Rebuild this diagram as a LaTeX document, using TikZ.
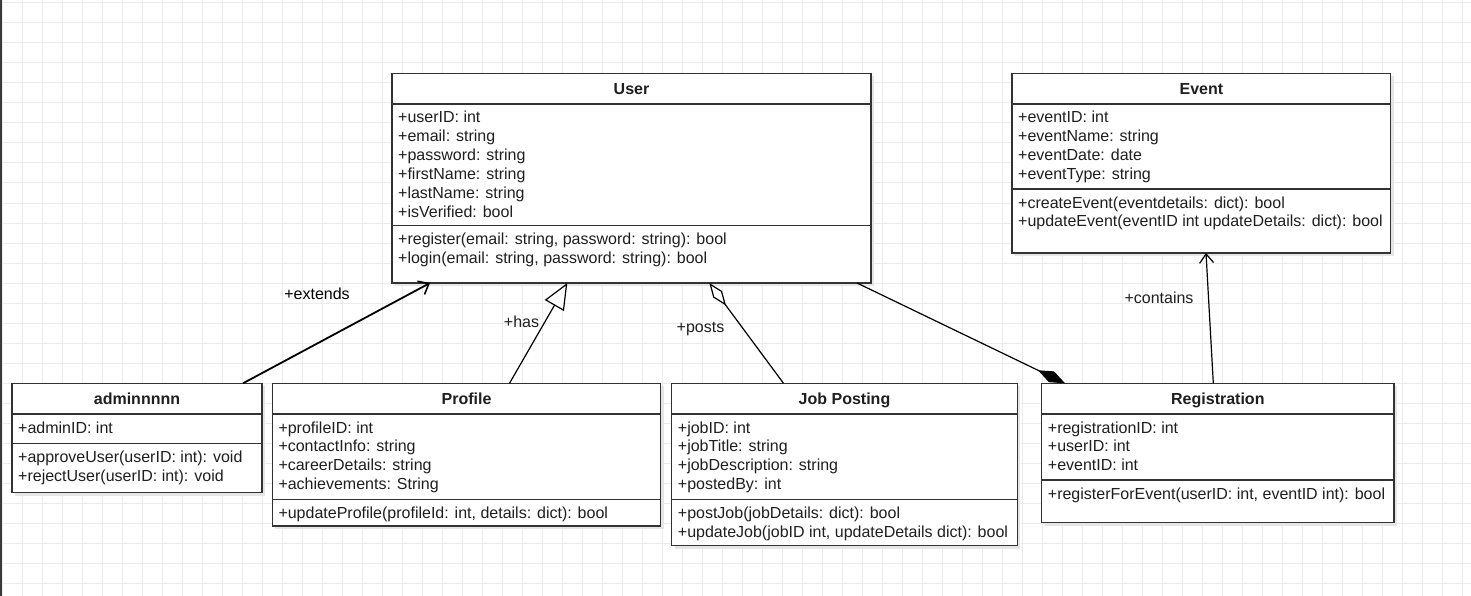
\documentclass[tikz,border=0pt]{standalone}
\usepackage{fontspec}
\setmainfont{Liberation Sans}
\usetikzlibrary{arrows.meta,calc}
\definecolor{gridc}{HTML}{EBEBEB}
\definecolor{linec}{HTML}{333333}
\definecolor{textc}{HTML}{1F1F1F}
\definecolor{shadowc}{HTML}{E6E6E6}
\definecolor{barc}{HTML}{3A3A3A}
\tikzset{
  classbox/.style={draw=linec, line width=1.3pt, fill=white, inner sep=0pt, outer sep=0pt, anchor=north west},
  sepline/.style={draw=linec, line width=1.3pt},
  titletext/.style={font=\fontsize{16}{19}\selectfont\bfseries, text=textc, inner sep=0pt, anchor=base},
  membertext/.style={font=\fontsize{16}{19}\selectfont, text=textc, inner sep=0pt, anchor=base west},
  conn/.style={draw=black, line width=1.2pt},
  lbl/.style={font=\fontsize{16}{19}\selectfont, text=textc, inner sep=0pt},
}
% #1 name, #2 left, #3 top, #4 right, #5 bottom, #6 second separator, #7 title, #8 attributes, #9 methods
\newcommand\umlclass[9]{%
  \fill[shadowc] ({#2+3},{#3+3}) rectangle ({#4+3},{#5+3});
  \node[classbox, minimum width={#4-#2}, minimum height={#5-#3}] (#1) at ({#2},{#3}) {};
  \draw[sepline] ({#2},{#3+30.7}) -- ({#4},{#3+30.7});
  \draw[sepline] ({#2},{#6}) -- ({#4},{#6});
  \node[titletext] (#1-title) at ({(#2+#4)/2},{#3+21}) {#7};
  \foreach \t [count=\i] in {#8} {\node[membertext] (#1-a\i) at ({#2+6},{#3+30.7+19+(\i-1)*18.8}) {\t};}
  \foreach \t [count=\i] in {#9} {\node[membertext] (#1-m\i) at ({#2+6},{#6+19+(\i-1)*18.8}) {\t};}
}
\begin{document}
\begin{tikzpicture}[x=1pt,y=-1pt]
\useasboundingbox (0,0) rectangle (1471,596);
\fill[white] (0,0) rectangle (1471,596);
\foreach \gx in {2,22,...,1462} {\draw[gridc, line width=1pt] (\gx,0) -- (\gx,596);}
\foreach \gy in {3,23,...,593} {\draw[gridc, line width=1pt] (0,\gy) -- (1471,\gy);}
\fill[barc] (0,0) rectangle (2,596);

\umlclass{user}{392}{73.3}{871}{283}{225.7}{User}
  {+userID: int,+email: string,+password: string,+firstName: string,+lastName: string,+isVerified: bool}
  {{+register(email: string, password: string): bool},{+login(email: string, password: string): bool}}
\umlclass{event}{1012}{73.3}{1390.7}{253}{189}{Event}
  {+eventID: int,+eventName: string,+eventDate: date,+eventType: string}
  {{+createEvent(eventdetails: dict): bool},{+updateEvent(eventID int updateDetails: dict): bool}}
\umlclass{admin}{12}{383.3}{262}{492.7}{443.3}{adminnnnn}
  {+adminID: int}
  {{+approveUser(userID: int): void},{+rejectUser(userID: int): void}}
\umlclass{profile}{272.3}{383.3}{660.7}{526}{499.3}{Profile}
  {+profileID: int,+contactInfo: string,+careerDetails: string,+achievements: String}
  {{+updateProfile(profileId: int, details: dict): bool}}
\umlclass{job}{671.7}{383.3}{1017.3}{545.7}{499.3}{Job Posting}
  {+jobID: int,+jobTitle: string,+jobDescription: string,+postedBy: int}
  {{+postJob(jobDetails: dict): bool},{+updateJob(jobID int, updateDetails dict): bool}}
\umlclass{reg}{1041.7}{383.3}{1394}{522.7}{480}{Registration}
  {+registrationID: int,+userID: int,+eventID: int}
  {{+registerForEvent(userID: int, eventID int): bool}}

% attachment points
\coordinate (ext-s) at ($(admin.north west)+(231,0)$);
\coordinate (ext-e) at ($(user.south west)+(38,0)$);
\coordinate (has-s) at ($(profile.north west)+(237.2,0)$);
\coordinate (has-e) at ($(user.south west)+(175.3,0)$);
\coordinate (posts-s) at ($(job.north west)+(111.8,0)$);
\coordinate (posts-e) at ($(user.south west)+(317.3,0)$);
\coordinate (comp-s) at ($(user.south west)+(465,0)$);
\coordinate (comp-e) at ($(reg.north west)+(23.3,0)$);
\coordinate (cont-s) at ($(reg.north west)+(171.6,0)$);
\coordinate (cont-e) at ($(event.south west)+(194,0)$);

\draw[conn, line width=1.8pt, -{Straight Barb[length=9pt,width=15pt,line width=1.6pt]}] (ext-s) -- (ext-e);
\draw[conn, -{Triangle[length=26pt,width=22pt,fill=white,line width=1.2pt]}] (has-s) -- (has-e);
\draw[conn, -{Diamond[length=28pt,width=11pt,fill=white,line width=1.2pt]}] (posts-s) -- (posts-e);
\draw[conn, -{Diamond[length=30pt,width=12pt,line width=1.2pt]}] (comp-s) -- (comp-e);
\draw[conn, -{Straight Barb[length=9pt,width=14pt,line width=1.2pt]}] (cont-s) -- (cont-e);

\node[lbl, text=black] (ext-l) at (317,293.5) {+extends};
\node[lbl] (has-l) at (521.5,321.5) {+has};
\node[lbl] (posts-l) at (700.5,329) {+posts};
\node[lbl] (cont-l) at (1159,298) {+contains};
\end{tikzpicture}
\end{document}
